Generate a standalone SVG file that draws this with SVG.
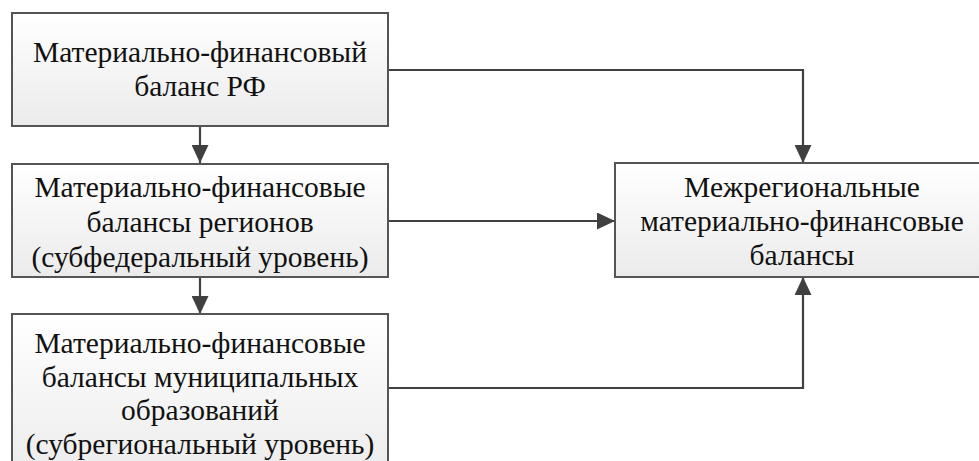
<svg xmlns="http://www.w3.org/2000/svg" width="979" height="461" viewBox="0 0 979 461">
<defs>
<linearGradient id="g" x1="0" y1="0" x2="0" y2="1">
<stop offset="0" stop-color="#ffffff"/>
<stop offset="1" stop-color="#ebebeb"/>
</linearGradient>
<marker id="ah" viewBox="0 0 18 17" refX="18" refY="8.5" markerWidth="18" markerHeight="17" markerUnits="userSpaceOnUse" orient="auto">
<path d="M0,0 L18,8.5 L0,17 Z" fill="#404040"/>
</marker>
<style>
.box{fill:url(#g);stroke:#555555;stroke-width:2}
.t{font-family:"Liberation Serif","Times New Roman",serif;font-size:29.5px;fill:#111111;text-anchor:middle}
.c{fill:none;stroke:#404040;stroke-width:2.2}
</style>
</defs>
<rect width="979" height="461" fill="#ffffff"/>
<g id="connectors">
<path class="c" d="M200,126 V163" marker-end="url(#ah)"/>
<path class="c" d="M200,277 V314" marker-end="url(#ah)"/>
<path class="c" d="M388,70 H803 V163" marker-end="url(#ah)"/>
<path class="c" d="M388,221 H615" marker-end="url(#ah)"/>
<path class="c" d="M388,388 H803 V277" marker-end="url(#ah)"/>
</g>
<g id="n1">
<rect class="box" x="12" y="13" width="376" height="113"/>
<text class="t" x="200" y="62">Материально-финансовый</text>
<text class="t" x="200" y="96">баланс РФ</text>
</g>
<g id="n2">
<rect class="box" x="12" y="164" width="376" height="113"/>
<text class="t" x="200" y="197">Материально-финансовые</text>
<text class="t" x="200" y="232">балансы регионов</text>
<text class="t" x="200" y="267">(субфедеральный уровень)</text>
</g>
<g id="n3">
<rect class="box" x="12" y="314" width="376" height="170"/>
<text class="t" x="200" y="353">Материально-финансовые</text>
<text class="t" x="200" y="387">балансы муниципальных</text>
<text class="t" x="200" y="420">образований</text>
<text class="t" x="200" y="454">(субрегиональный уровень)</text>
</g>
<g id="n4">
<rect class="box" x="615" y="163" width="376" height="114"/>
<text class="t" x="802" y="197">Межрегиональные</text>
<text class="t" x="802" y="231">материально-финансовые</text>
<text class="t" x="802" y="265">балансы</text>
</g>
</svg>
